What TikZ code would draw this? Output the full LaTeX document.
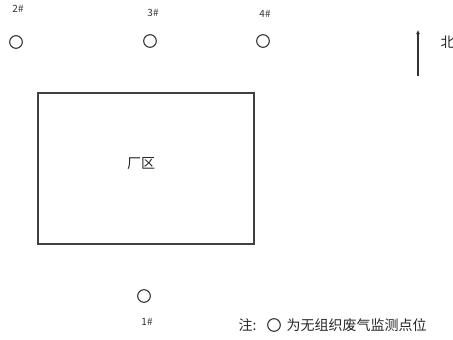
\documentclass[tikz,border=0pt]{standalone}
\usepackage{fontspec}
\usetikzlibrary{arrows.meta}
\newfontfamily\cjk{Noto Sans CJK SC}
\tikzset{
  point/.style={circle,draw=black!80,thick,minimum size=9.5pt,inner sep=0pt},
  ptlabel/.style={font=\cjk\fontsize{7.5}{8}\selectfont,text=black!80},
  cjktext/.style={font=\cjk\fontsize{10.5}{12}\selectfont,text=black!85}
}
\begin{document}
\begin{tikzpicture}[x=0.75pt,y=-0.75pt]
%\draw[step=20,gray,very thin] (0,0) grid (453,339);
\useasboundingbox (0,0) rectangle (453,339);
\draw[black!75,thick] (38,93) rectangle (254,244);
\node[cjktext] (plant) at (141,164) {厂区};
% monitoring points
\node[point] (p2) at (16,42) {};
\node[point] (p3) at (150,41) {};
\node[point] (p4) at (263,41) {};
\node[point] (p1) at (144,296) {};
\node[ptlabel] (l2) at (18,9) {2\#};
\node[ptlabel] (l3) at (153,13) {3\#};
\node[ptlabel] (l4) at (265,14) {4\#};
\node[ptlabel] (l1) at (147,322) {1\#};
% north
\coordinate (nb) at (418,76);
\coordinate (nt) at (418,30);
\draw[black!80,thick,-{Latex[length=3pt,width=3pt]}] (nb) -- (nt);
\node[cjktext,anchor=west] (north) at (436,42) {北};
% legend
\node[cjktext,anchor=west] (note) at (234,325) {注:};
\node[point] (lp) at (274,325) {};
\node[cjktext,anchor=west] (ntext) at (282,325) {为无组织废气监测点位};
\end{tikzpicture}
\end{document}
